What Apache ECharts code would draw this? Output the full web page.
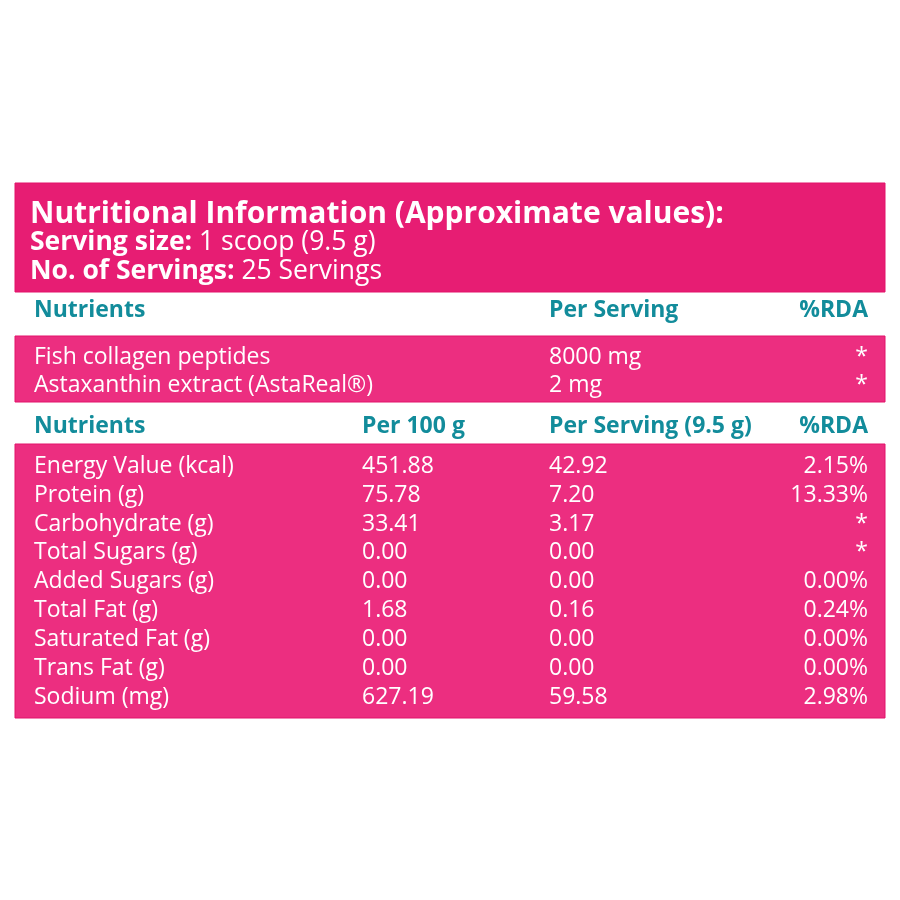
<!DOCTYPE html>
<html><head><meta charset="utf-8">
<script src="https://cdn.jsdelivr.net/npm/echarts@6/dist/echarts.min.js"></script>
<style>html,body{margin:0;padding:0;background:#fff}#c{width:900px;height:900px}</style>
</head><body><div id="c"></div>
<script>
// ---------- data ----------
const titleText = 'Nutritional Information (Approximate values):';
const servingLabels = ['Serving size:', 'No. of Servings:'];
const servingValues = ['1 scoop (9.5 g)', '25 Servings'];
const headers1 = ['Nutrients', 'Per Serving', '%RDA'];
const ingredients = ['Fish collagen peptides', 'Astaxanthin extract (AstaReal®)'];
const ingredientPerServing = ['8000 mg', '2 mg'];
const ingredientRDA = ['*', '*'];
const headers2 = ['Nutrients', 'Per 100 g', 'Per Serving (9.5 g)', '%RDA'];
const nutrients = ['Energy Value (kcal)', 'Protein (g)', 'Carbohydrate (g)', 'Total Sugars (g)', 'Added Sugars (g)', 'Total Fat (g)', 'Saturated Fat (g)', 'Trans Fat (g)', 'Sodium (mg)'];
const per100g = [451.88, 75.78, 33.41, 0.00, 0.00, 1.68, 0.00, 0.00, 627.19];
const perServing = [42.92, 7.20, 3.17, 0.00, 0.00, 0.16, 0.00, 0.00, 59.58];
const rdaPercent = [2.15, 13.33, null, null, 0.00, 0.24, 0.00, 0.00, 2.98];

// ---------- layout / style ----------
const FONT = '"Open Sans"';
const WHITE = '#ffffff';
const TEAL = '#128C9B';
const PINK_DARK = '#E71D73';
const PINK = '#EC2E80';
const BORDER = '#E3126A';
const LEFT = 15, WIDTH = 870;
const COL = { name: 19, per100: 347, perServ: 534, rda: 853, title: 15 };

const sections = [
  { key: 'title', top: 183, height: 109, first: 214, pitch: 28.7, bg: PINK_DARK },
  { key: 'head1', top: 292, height: 44, first: 310.4, pitch: 28, bg: null },
  { key: 'body1', top: 336, height: 66, first: 357.4, pitch: 28, bg: PINK },
  { key: 'head2', top: 402, height: 42, first: 426.4, pitch: 28, bg: null },
  { key: 'body2', top: 444, height: 274, first: 466.1, pitch: 28.95, bg: PINK }
];

const fmt = v => v == null ? '*' : v.toFixed(2);
const fmtPct = v => v == null ? '*' : v.toFixed(2) + '%';

const bodyFont = { fontFamily: FONT, fontSize: 23, fontWeight: 'normal' };
const headFont = { fontFamily: FONT, fontSize: 23, fontWeight: 'bold' };

const columnsBySection = {
  title: [
    { x: COL.title, align: 'left', color: WHITE, get: i => i === 0 ? '{t|' + titleText + '}' : '{b|' + servingLabels[i - 1] + '}{r| ' + servingValues[i - 1] + '}',
      rich: { t: { fontFamily: FONT, fontSize: 30, fontWeight: 'bold', fill: WHITE }, b: { fontFamily: FONT, fontSize: 26.5, fontWeight: 'bold', fill: WHITE }, r: { fontFamily: FONT, fontSize: 26.5, fill: WHITE } } }
  ],
  head1: [
    { x: COL.name, align: 'left', color: TEAL, font: headFont, get: () => headers1[0] },
    { x: COL.perServ, align: 'left', color: TEAL, font: headFont, get: () => headers1[1] },
    { x: COL.rda, align: 'right', color: TEAL, font: headFont, get: () => headers1[2] }
  ],
  body1: [
    { x: COL.name, align: 'left', color: WHITE, font: bodyFont, get: i => ingredients[i] },
    { x: COL.perServ, align: 'left', color: WHITE, font: bodyFont, get: i => ingredientPerServing[i] },
    { x: COL.rda, align: 'right', color: WHITE, font: bodyFont, get: i => ingredientRDA[i] }
  ],
  head2: [
    { x: COL.name, align: 'left', color: TEAL, font: headFont, get: () => headers2[0] },
    { x: COL.per100, align: 'left', color: TEAL, font: headFont, get: () => headers2[1] },
    { x: COL.perServ, align: 'left', color: TEAL, font: headFont, get: () => headers2[2] },
    { x: COL.rda, align: 'right', color: TEAL, font: headFont, get: () => headers2[3] }
  ],
  body2: [
    { x: COL.name, align: 'left', color: WHITE, font: bodyFont, get: i => nutrients[i] },
    { x: COL.per100, align: 'left', color: WHITE, font: bodyFont, get: i => fmt(per100g[i]) },
    { x: COL.perServ, align: 'left', color: WHITE, font: bodyFont, get: i => fmt(perServing[i]) },
    { x: COL.rda, align: 'right', color: WHITE, font: bodyFont, get: i => fmtPct(rdaPercent[i]) }
  ]
};

const rowCounts = { title: 1 + servingLabels.length, head1: 1, body1: ingredients.length, head2: 1, body2: nutrients.length };

const grid = [], xAxis = [], yAxis = [], series = [];
sections.forEach((s, gi) => {
  grid.push({
    left: LEFT, width: WIDTH, top: s.top, height: s.height,
    show: !!s.bg, backgroundColor: s.bg || 'transparent', borderColor: BORDER, borderWidth: s.bg ? 1 : 0
  });
  xAxis.push({ gridIndex: gi, type: 'value', min: 0, max: WIDTH, show: false });
  yAxis.push({ gridIndex: gi, type: 'value', inverse: true, show: false,
    min: -(s.first - s.top) / s.pitch, max: (s.top + s.height - s.first) / s.pitch });
  const cols = columnsBySection[s.key];
  const n = rowCounts[s.key];
  series.push({
    type: 'custom', xAxisIndex: gi, yAxisIndex: gi, silent: true,
    data: Array.from({ length: n }, (_, i) => [0, i]),
    renderItem(params, api) {
      const i = api.value(1);
      return {
        type: 'group',
        children: cols.map(c => {
          const p = api.coord([c.x, i]);
          const style = Object.assign({ text: c.get(i), align: c.align, verticalAlign: 'middle', fill: c.color }, c.font || {});
          if (c.rich) style.rich = c.rich;
          return { type: 'text', x: p[0], y: p[1], style };
        })
      };
    }
  });
});

const chart = echarts.init(document.getElementById('c'), null, { renderer: 'canvas' });
chart.setOption({ backgroundColor: '#ffffff', animation: false, grid, xAxis, yAxis, series });
</script></body></html>
